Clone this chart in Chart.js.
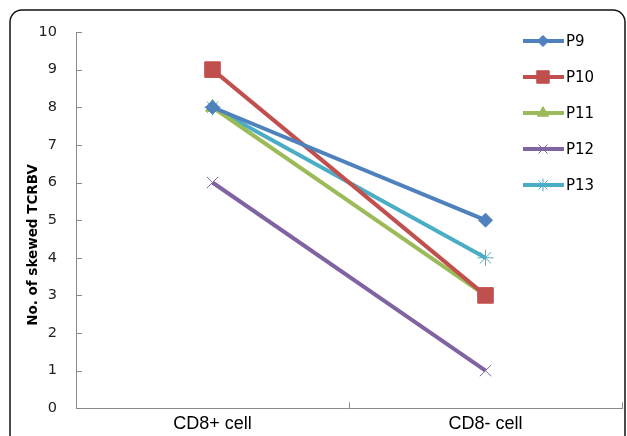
<!DOCTYPE html>
<html>
<head>
<meta charset="utf-8">
<script src="https://cdn.jsdelivr.net/npm/chart.js@4/dist/chart.umd.min.js"></script>
<style>
  html, body { margin: 0; padding: 0; background: #fff; }
  #wrap { width: 627px; height: 436px; }
</style>
</head>
<body>
<div id="wrap"><canvas id="skewed" width="627" height="436"></canvas></div>
<script>
// categories and values
var cells = ['CD8+ cell', 'CD8- cell'];
var p9  = [8, 5];
var p10 = [9, 3];
var p11 = [8, 3];
var p12 = [6, 1];
var p13 = [8, 4];
var yTitle = 'No. of skewed TCRBV';

var axisGray = '#8a8a8a';

function series(label, data, color, style, radius, bw) {
    return {
        label: label,
        data: data,
        borderColor: color,
        backgroundColor: color,
        borderWidth: 4,
        pointStyle: style,
        pointRadius: radius,
        pointHoverRadius: radius,
        pointBorderWidth: bw,
        pointBackgroundColor: color,
        pointBorderColor: color,
        fill: false,
        tension: 0
    };
}

// frame, inward ticks, rotated title and the legend on the right
var decor = {
    id: 'decor',
    afterDraw: function(chart) {
        var ctx = chart.ctx;
        var y = chart.scales.y, x = chart.scales.x;
        var a = chart.chartArea;
        ctx.save();
        // inward tick marks
        ctx.strokeStyle = axisGray;
        ctx.lineWidth = 1;
        ctx.beginPath();
        for (var v = 0; v <= 10; v++) {
            var py = Math.round(y.getPixelForValue(v)) + 0.5;
            ctx.moveTo(a.left, py);
            ctx.lineTo(a.left + 6, py);
        }
        var half = (x.getPixelForValue(1) - x.getPixelForValue(0)) / 2;
        for (var i = 0; i < cells.length; i++) {
            var px = Math.round(x.getPixelForValue(i) + half) + 0.5;
            ctx.moveTo(px, a.bottom);
            ctx.lineTo(px, a.bottom - 6);
        }
        ctx.stroke();

        // y axis title
        ctx.fillStyle = '#000';
        ctx.font = 'bold 13.5px "DejaVu Sans"';
        ctx.textAlign = 'center';
        ctx.textBaseline = 'middle';
        ctx.translate(33, 245);
        ctx.rotate(-Math.PI / 2);
        ctx.fillText(yTitle, 0, 0);
        ctx.restore();

        // legend
        ctx.save();
        ctx.font = '15px "DejaVu Sans"';
        ctx.textAlign = 'left';
        ctx.textBaseline = 'middle';
        chart.data.datasets.forEach(function(ds, k) {
            var ly = 41 + k * 36;
            ctx.strokeStyle = ds.borderColor;
            ctx.lineWidth = 4;
            ctx.beginPath();
            ctx.moveTo(523, ly);
            ctx.lineTo(564, ly);
            ctx.stroke();
            ctx.fillStyle = ds.borderColor;
            ctx.lineWidth = ds.pointBorderWidth;
            Chart.helpers.drawPoint(ctx, {
                pointStyle: ds.pointStyle,
                radius: ds.pointRadius * 0.8,
                rotation: 0,
                borderWidth: ds.pointBorderWidth
            }, 543, ly);
            ctx.fillStyle = '#000';
            ctx.fillText(ds.label, 566, ly + 1);
        });

        // rounded frame
        ctx.strokeStyle = '#111';
        ctx.lineWidth = 1.5;
        ctx.beginPath();
        ctx.roundRect(10, 10, 615, 460, 12);
        ctx.stroke();
        ctx.restore();
    }
};

var ctx = document.getElementById('skewed').getContext('2d');
var chart = new Chart(ctx, {
    type: 'line',
    data: {
        labels: cells,
        datasets: [
            series('P9', p9, '#4F81BD', 'rectRot', 7, 1),
            series('P10', p10, '#C0504D', 'rect', 11, 1),
            series('P11', p11, '#9BBB59', 'triangle', 8, 1),
            series('P12', p12, '#8064A2', 'crossRot', 8, 1),
            series('P13', p13, '#4BACC6', 'star', 8, 1)
        ]
    },
    options: {
        responsive: false,
        animation: false,
        layout: { autoPadding: false, padding: { left: 0, top: 32, right: 5, bottom: 0 } },
        plugins: {
            legend: { display: false },
            tooltip: { enabled: false }
        },
        scales: {
            x: {
                offset: true,
                grid: { display: false, drawTicks: false },
                border: { color: axisGray, width: 1 },
                ticks: {
                    color: '#000',
                    padding: 5,
                    font: { family: '"Liberation Sans", Arial', size: 18 }
                },
                afterFit: function(scale) { scale.height = 24; }
            },
            y: {
                min: 0,
                max: 10,
                grid: { display: false, drawTicks: false },
                border: { color: axisGray, width: 1 },
                ticks: {
                    stepSize: 1,
                    color: '#222',
                    padding: 19,
                    font: { family: '"DejaVu Sans"', size: 14.5 }
                },
                afterFit: function(scale) { scale.width = 76; }
            }
        }
    },
    plugins: [decor]
});
</script>
</body>
</html>
